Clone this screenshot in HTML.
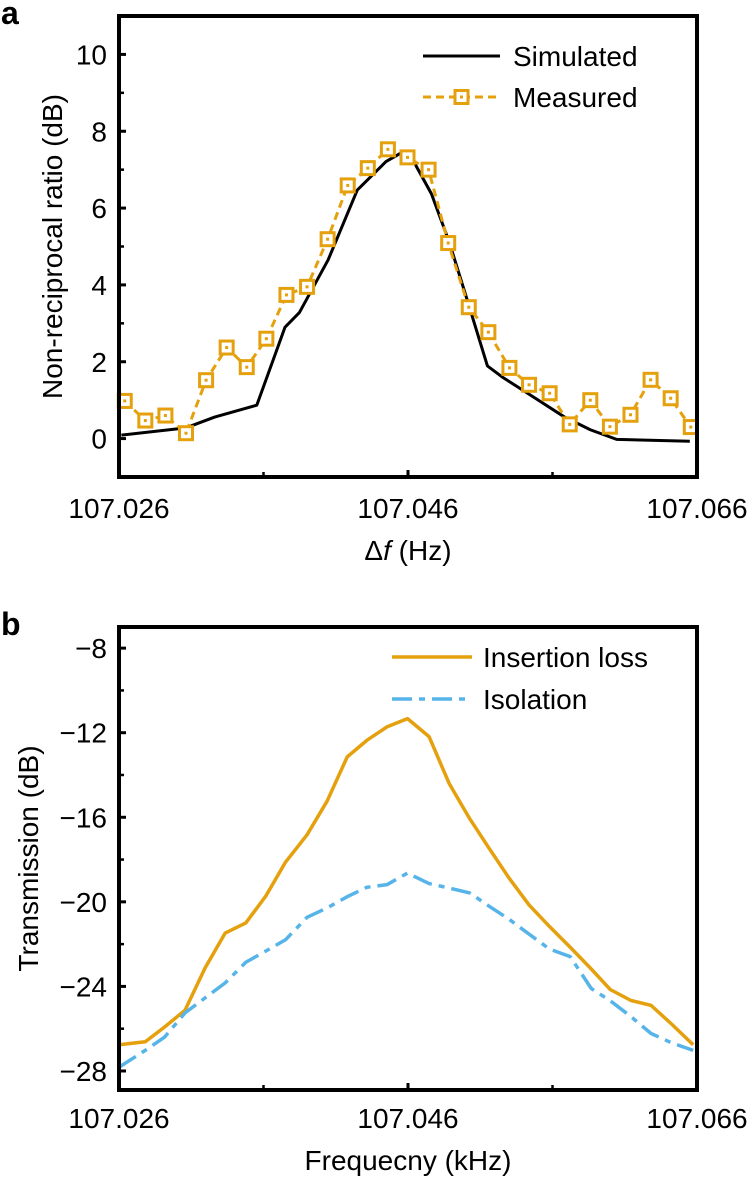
<!DOCTYPE html>
<html><head><meta charset="utf-8"><style>
body{margin:0;background:#fff;}
svg{display:block;font-family:"Liberation Sans",Arial,sans-serif;}
</style></head><body>
<svg id="fig" width="747" height="1177"></svg>
<script>
// Panel a data
const aMeasX = [262,305,347,390,432,475,517,558,600,643,686,728,770,812,853,897,938,981,1022,1066,1107,1150,1192,1235,1276,1319,1361,1403,1445].map(z=>107.026+(z-250)/1208*0.04);
const aMeasY = [0.98,0.47,0.6,0.14,1.52,2.37,1.86,2.6,3.74,3.95,5.19,6.59,7.04,7.53,7.32,7.0,5.09,3.42,2.77,1.84,1.4,1.18,0.37,1.0,0.31,0.62,1.53,1.05,0.3];
const aSimX = [255,390,450,538,597,627,687,748,808,840,862,903,940,975,1020,1050,1110,1180,1235,1290,1443].map(z=>107.026+(z-250)/1208*0.04);
const aSimY = [0.09,0.28,0.56,0.87,2.9,3.28,4.65,6.47,7.21,7.44,7.3,6.37,5.12,3.72,1.89,1.61,1.13,0.57,0.23,-0.02,-0.07];
const aYTicks = [0,2,4,6,8,10];
const xTicks = [107.026,107.046,107.066];
// Panel b data
const bX = [250,305,345,388,430,472,515,557,598,643,685,727,768,810,853,898,940,983,1023,1065,1107,1150,1193,1237,1277,1320,1362,1405,1450].map(z=>107.026+(z-250)/1208*0.04);
const bIns = [1215,1207,1168,1123,1010,917,890,818,728,655,565,447,403,367,345,393,518,612,690,770,842,900,955,1013,1068,1097,1110,1160,1215].map(z=>-8-(z-157)/56.4);
const bIso = [1275,1230,1195,1130,1090,1050,995,965,935,875,850,820,795,788,757,785,797,810,845,880,920,960,980,1065,1098,1140,1185,1210,1230].map(z=>-8-(z-157)/56.4);
const bYTicks = [-8,-12,-16,-20,-24,-28];

const NS='http://www.w3.org/2000/svg';
const svg=document.getElementById('fig');
function mk(tag,attrs,parent){const e=document.createElementNS(NS,tag);for(const k in attrs)e.setAttribute(k,attrs[k]);(parent||svg).appendChild(e);return e;}
function txt(s,attrs,parent){const e=mk('text',attrs,parent);e.textContent=s;return e;}
const FS=28;
function panel(o){
  const g=mk('g',{});
  
  
  const L=119,R=697,T=o.top,B=o.bottom;
  const sx=v=>L+(v-107.026)/0.04*(R-L);
  const sy=v=>B-(v-o.ymin)/(o.ymax-o.ymin)*(B-T);
  const lab=txt(o.letter,{x:1,y:o.top+8,'font-size':32,'font-weight':'bold'},g);
  
  
  o.yticks.forEach(v=>{
    mk('line',{x1:L,x2:L+7,y1:sy(v),y2:sy(v),stroke:'#000','stroke-width':3},g);
    const t=txt(String(v).replace('-','\u2212'),{x:L-12,y:sy(v)+10,'font-size':FS,'text-anchor':'end'},g);
    
    
  });
  o.yminor.forEach(v=>mk('line',{x1:L,x2:L+5,y1:sy(v),y2:sy(v),stroke:'#000','stroke-width':2.5},g));
  xTicks.forEach(v=>{
    mk('line',{x1:sx(v),x2:sx(v),y1:B,y2:B-7,stroke:'#000','stroke-width':3},g);
    const t=txt(v.toFixed(3),{x:sx(v),y:o.xlabY,'font-size':FS,'text-anchor':'middle'},g);
    
    
  });
  [107.036,107.056].forEach(v=>mk('line',{x1:sx(v),x2:sx(v),y1:B,y2:B-5,stroke:'#000','stroke-width':2.5},g));
  o.series.forEach(s=>{
    const p=mk('polyline',{points:s.x.map((x,i)=>sx(x)+','+sy(s.y[i])).join(' '),fill:'none',stroke:s.color,'stroke-width':s.w,'stroke-dasharray':s.dash||'none','stroke-linejoin':'round'},g);
    
    
    if(s.markers){s.x.forEach((x,i)=>{
      const m=mk('rect',{x:sx(x)-6.5,y:sy(s.y[i])-6.5,width:13,height:13,fill:'#fff',stroke:s.color,'stroke-width':3},g);
      
      
      mk('rect',{x:sx(x)-1.5,y:sy(s.y[i])-1.5,width:3,height:3,fill:s.color},g);
    });}
  });
  mk('rect',{x:L,y:T,width:R-L,height:B-T,fill:'none',stroke:'#000','stroke-width':4},g);
  const yt=txt(o.ytitle,{transform:`translate(${o.ytX},${(T+B)/2}) rotate(-90)`,'font-size':FS,'text-anchor':'middle'},g);
  
  
  const xt=mk('text',{x:(L+R)/2,y:o.xtY,'font-size':FS,'text-anchor':'middle'},g);
  xt.innerHTML=o.xtitle;
  
  
  o.legend.forEach(l=>{
    const lg=mk('g',{},g);
    
    
    mk('line',{x1:l.x1,x2:l.x2,y1:l.y,y2:l.y,stroke:l.color,'stroke-width':l.w,'stroke-dasharray':l.dash||'none'},lg);
    if(l.marker){mk('rect',{x:(l.x1+l.x2)/2-6.5,y:l.y-6.5,width:13,height:13,fill:'#fff',stroke:l.color,'stroke-width':3},lg);
      mk('rect',{x:(l.x1+l.x2)/2-1.5,y:l.y-1.5,width:3,height:3,fill:l.color},lg);}
    txt(l.label,{x:l.tx,y:l.y+10,'font-size':FS},lg);
  });
}
const OR='#e5a00d', BL='#56b4e9';
panel({name:'panel-a',letter:'a',top:16,bottom:477,ymin:-1,ymax:11,yticks:aYTicks,yminor:[1,3,5,7,9],
  xlabY:518,xtY:560,ytX:62,ytitle:'Non-reciprocal ratio (dB)',xtitle:'\u0394<tspan font-style="italic">f</tspan> (Hz)',
  series:[{name:'simulated-line',x:aSimX,y:aSimY,color:'#000',w:3},
          {name:'measured-line',x:aMeasX,y:aMeasY,color:OR,w:3,dash:'8 5',markers:true}],
  legend:[{x1:423,x2:500,y:56,color:'#000',w:3,label:'Simulated',tx:513},
          {x1:423,x2:500,y:97,color:OR,w:3,dash:'8 5',marker:true,label:'Measured',tx:513}]});
panel({name:'panel-b',letter:'b',top:627,bottom:1090,ymin:-28.9,ymax:-7,yticks:bYTicks,yminor:[-10,-14,-18,-22,-26],
  xlabY:1128,xtY:1170,ytX:38,ytitle:'Transmission (dB)',xtitle:'Frequecny (kHz)',
  series:[{name:'insertion-loss-line',x:bX,y:bIns,color:OR,w:3.5},
          {name:'isolation-line',x:bX,y:bIso,color:BL,w:3.5,dash:'20 7 6 7'}],
  legend:[{x1:392,x2:472,y:657,color:OR,w:3.5,label:'Insertion loss',tx:483},
          {x1:392,x2:472,y:699,color:BL,w:3.5,dash:'20 7 6 7',label:'Isolation',tx:483}]});
</script>
</body></html>
